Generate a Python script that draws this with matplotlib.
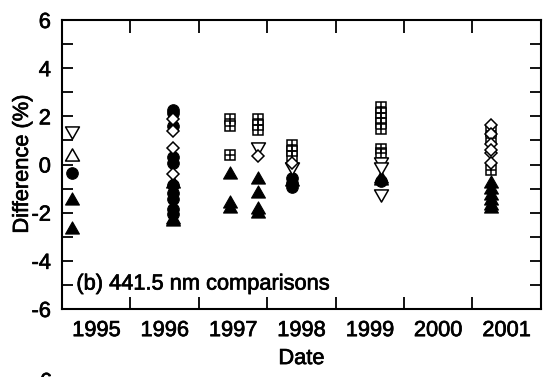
import matplotlib.pyplot as plt
import matplotlib.patheffects as pe
from matplotlib.path import Path
from matplotlib.ticker import MultipleLocator, FixedLocator, FixedFormatter, NullFormatter

plt.rcParams['font.family'] = ['Liberation Sans', 'DejaVu Sans']
plt.rcParams['axes.unicode_minus'] = False

# year axis: ticks on year boundaries, labels in the middle of each year
year_edges = [1995, 1996, 1997, 1998, 1999, 2000, 2001, 2002]
year_labels = ['1995', '1996', '1997', '1998', '1999', '2000', '2001']

# comparison dates (decimal year) and differences (%) by symbol
tri_date = [1995.15, 1995.15, 1996.62, 1996.62, 1996.62, 1997.46, 1997.46, 1997.46,
            1997.87, 1997.87, 1997.87, 1997.87, 1998.36, 1999.67, 1999.67,
            2001.28, 2001.28, 2001.28, 2001.28, 2001.28, 2001.28]
tri_diff = [-1.43, -2.65, -0.74, -2.22, -2.32, -0.36, -1.55, -1.75,
            -0.57, -1.13, -1.82, -1.96, -0.66, -0.52, -0.62,
            -0.74, -0.99, -1.22, -1.45, -1.64, -1.77]

dot_date = [1995.15, 1996.62, 1996.62, 1996.62, 1996.62, 1996.62, 1996.62, 1996.62,
            1996.62, 1996.62, 1996.62, 1998.36, 1998.36, 1998.36, 1999.67]
dot_diff = [-0.34, 2.28, 2.15, 1.6, 0.32, 0.05, -1.2, -1.45, -1.85, -2.05, -0.85,
            -0.55, -0.78, -0.92, -0.68]

box_date = [1997.46, 1997.46, 1997.46, 1997.87, 1997.87, 1997.87, 1998.36, 1998.36,
            1998.36, 1999.67, 1999.67, 1999.67, 1999.67, 1999.67, 1999.67, 1999.67,
            2001.28, 2001.28, 2001.28]
box_diff = [1.88, 1.6, 0.38, 1.9, 1.66, 1.42, 0.82, 0.58, 0.36, 2.38, 2.15, 1.94,
            1.72, 1.48, 0.66, 0.46, 1.4, 1.08, -0.24]

down_date = [1995.15, 1997.87, 1998.36, 1999.67, 1999.67, 1999.67]
down_diff = [1.35, 0.67, -0.14, 0.05, -0.16, -1.27]

up_date = [1995.15]
up_diff = [0.39]

dia_date = [1996.62, 1996.62, 1996.62, 1996.62, 1997.87, 1998.36,
            2001.28, 2001.28, 2001.28, 2001.28, 2001.28, 2001.28]
dia_diff = [1.87, 1.39, 0.70, -0.40, 0.36, 0.08,
            1.62, 1.25, 0.86, 0.46, 0.08, 0.6]

# wide, slightly flat triangles like the printed symbols
tri_up = Path([(-1, -0.8), (1, -0.8), (0, 0.95), (-1, -0.8)], closed=True)
tri_down = Path([(-1, 0.8), (1, 0.8), (0, -0.95), (-1, 0.8)], closed=True)

fig = plt.figure(figsize=(5.47, 3.77), dpi=100)
ax = fig.add_axes([62 / 547, 1 - 309 / 377, 478.7 / 547, 289 / 377])

ax.plot(dot_date, dot_diff, 'o', ms=8.3, mfc='k', mec='k', mew=0.8, ls='none')
ax.plot(tri_date, tri_diff, marker=tri_up, ms=10, mfc='k', mec='k', mew=0.8, ls='none')
ax.plot(box_date, box_diff, 's', ms=7, mfc='w', mec='k', mew=1.1, ls='none')
ax.plot(box_date, box_diff, '+', ms=7, mec='k', mew=1.1, ls='none')
ax.plot(down_date, down_diff, marker=tri_down, ms=10, mfc='w', mec='k', mew=1.1, ls='none')
ax.plot(up_date, up_diff, marker=tri_up, ms=10, mfc='w', mec='k', mew=1.1, ls='none')
ax.plot(dia_date, dia_diff, 'D', ms=6.5, mfc='w', mec='k', mew=1.1, ls='none')

ax.set_xlim(1995, 2002)
ax.set_ylim(-6, 6)

fs = 15.7
ink = [pe.withStroke(linewidth=0.5, foreground='k')]

ax.xaxis.set_major_locator(FixedLocator(year_edges))
ax.xaxis.set_major_formatter(NullFormatter())
ax.xaxis.set_minor_locator(FixedLocator([y + 0.5 for y in year_edges[:-1]]))
ax.xaxis.set_minor_formatter(FixedFormatter(year_labels))
ax.tick_params(axis='x', which='major', direction='in', length=9, width=1.3,
               top=True, bottom=True)
ax.tick_params(axis='x', which='minor', length=0, pad=8, labelsize=fs)

ax.yaxis.set_major_locator(MultipleLocator(2))
ax.yaxis.set_minor_locator(MultipleLocator(1))
ax.tick_params(axis='y', which='both', direction='in', length=8, width=1.3,
               left=True, right=True, labelsize=fs, pad=8)

for lab in ax.get_xticklabels(minor=True) + ax.get_yticklabels():
    lab.set_path_effects(ink)

for s in ax.spines.values():
    s.set_linewidth(1.5)

ax.set_xlabel('Date', fontsize=fs, labelpad=5, path_effects=ink)
ax.set_ylabel('Difference (%)', fontsize=fs, labelpad=-1, path_effects=ink)

ax.text(0.03, 0.05, '(b) 441.5 nm comparisons', transform=ax.transAxes,
        fontsize=fs, ha='left', va='bottom', path_effects=ink)

# top of the next panel's first tick label, cut by the page edge
fig.text(46 / 547, 1 - 372 / 377, '6', fontsize=fs, ha='center', va='top',
         path_effects=ink)

fig.savefig('out.png', dpi=100)
